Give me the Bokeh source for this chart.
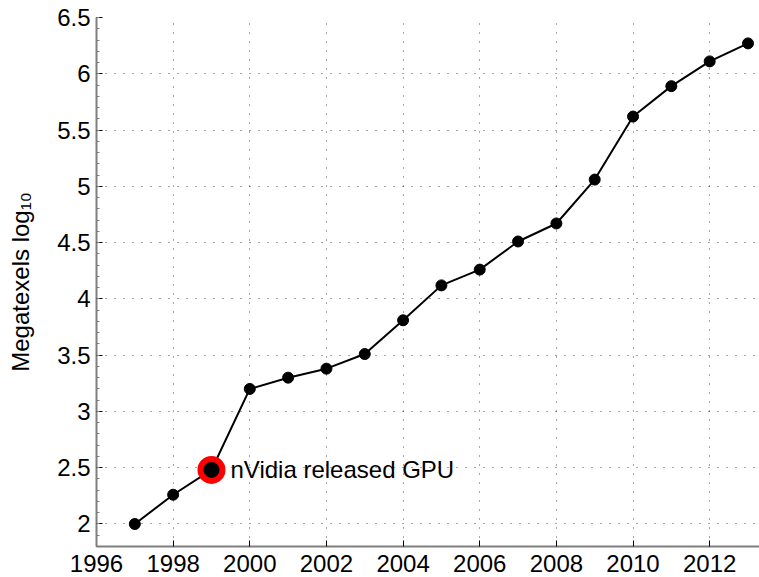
from bokeh.plotting import figure
from bokeh.models import FixedTicker, ColumnDataSource, Range1d
from bokeh.core.properties import value
from bokeh.embed import file_html
from bokeh.resources import INLINE

# ---- data ----
years = [1997, 1998, 1999, 2000, 2001, 2002, 2003, 2004, 2005, 2006,
         2007, 2008, 2009, 2010, 2011, 2012, 2013]
megatexels_log10 = [2.00, 2.26, 2.48, 3.20, 3.30, 3.38, 3.51, 3.81, 4.12, 4.26,
                    4.51, 4.67, 5.06, 5.62, 5.89, 6.11, 6.27]
x_ticks = [1996, 1998, 2000, 2002, 2004, 2006, 2008, 2010, 2012]
y_ticks = [2.0, 2.5, 3.0, 3.5, 4.0, 4.5, 5.0, 5.5, 6.0, 6.5]
y_tick_labels = ["2", "2.5", "3", "3.5", "4", "4.5", "5", "5.5", "6", "6.5"]
highlight_year = [1999]
highlight_value = [2.48]
highlight_label = ["nVidia released GPU"]
y_label = "Megatexels log\u2081\u2080"

FONT = "Liberation Sans"
FS = "24px"

p = figure(width=759, height=577, output_backend="svg", toolbar_location=None,
           x_range=Range1d(1996, 2013.3), y_range=Range1d(1.8, 6.5),
           min_border_left=96, min_border_right=0, min_border_top=17,
           min_border_bottom=31)
p.outline_line_color = None
p.background_fill_color = "white"

# axes
for ax in (p.xaxis[0], p.yaxis[0]):
    ax.axis_line_color = "#7f7f7f"
    ax.axis_line_width = 2
    ax.major_tick_line_color = "black"
    ax.major_tick_in = 6
    ax.major_tick_out = 0
    ax.major_label_text_font = FONT
    ax.major_label_text_font_size = FS
    ax.major_label_text_color = "black"

p.xaxis.ticker = FixedTicker(ticks=x_ticks)
p.xaxis.minor_tick_line_color = None
p.xaxis.major_label_standoff = 8

p.yaxis.ticker = FixedTicker(ticks=y_ticks,
                             minor_ticks=[1.8 + 0.1 * i for i in range(48)])
p.yaxis.major_label_overrides = {t: s for t, s in zip(y_ticks, y_tick_labels)}
p.yaxis.minor_tick_line_color = "#7f7f7f"
p.yaxis.minor_tick_in = 3
p.yaxis.minor_tick_out = 0
p.yaxis.major_label_standoff = 6
p.yaxis.axis_label = y_label
p.yaxis.axis_label_text_font = FONT
p.yaxis.axis_label_text_font_size = FS
p.yaxis.axis_label_text_font_style = "normal"
p.yaxis.axis_label_text_color = "black"
p.yaxis.axis_label_standoff = 20

# grid
for g in (p.xgrid[0], p.ygrid[0]):
    g.grid_line_color = "black"
    g.grid_line_alpha = 0.7
    g.grid_line_dash = "1 8"
    g.grid_line_width = 1

src = ColumnDataSource(dict(x=years, y=megatexels_log10))
p.line("x", "y", source=src, line_color="black", line_width=2)
p.scatter("x", "y", source=src, size=11, fill_color="black", line_color="black")

hl = ColumnDataSource(dict(x=highlight_year, y=highlight_value, t=highlight_label))
p.scatter("x", "y", source=hl, size=22, fill_color="black",
          line_color="red", line_width=6)
p.text("x", "y", text="t", source=hl, x_offset=19, text_baseline="middle",
       text_align="left", text_font=value(FONT), text_font_size=FS,
       text_color="black")

open("out.html", "w").write(file_html(p, INLINE))
